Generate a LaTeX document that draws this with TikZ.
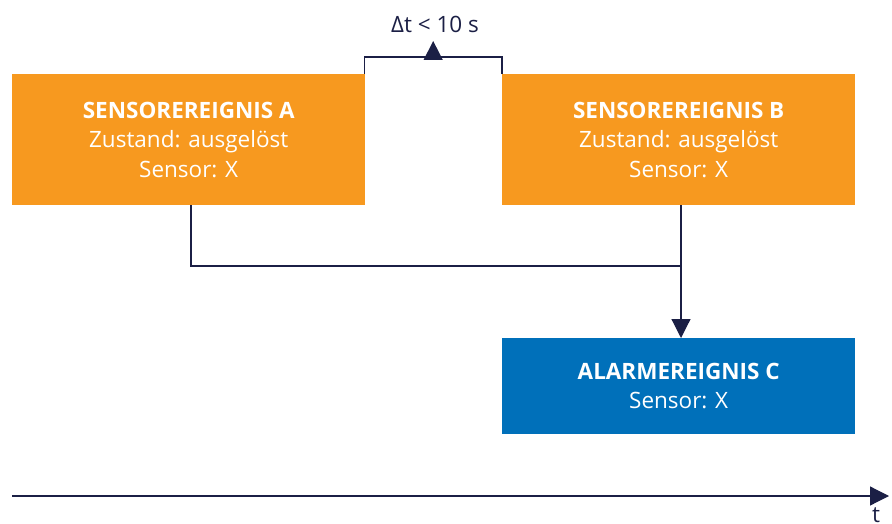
\documentclass[tikz,border=0pt]{standalone}
\usepackage{fontspec}
\setmainfont{Open Sans}
\usetikzlibrary{arrows.meta,calc}
\definecolor{evorange}{HTML}{F7991F}
\definecolor{evblue}{HTML}{0070BA}
\definecolor{navy}{HTML}{1B1F45}
\tikzset{
  evbox/.style={anchor=north west, minimum width=#1, inner sep=0pt, text=white, align=center, font=\fontsize{22.5}{29.5}\selectfont},
  orangebox/.style={evbox=353pt, fill=evorange, minimum height=131pt},
  bluebox/.style={evbox=353pt, fill=evblue, minimum height=96pt},
  conn/.style={draw=navy, line width=1.2pt},
  tip/.style={-{Triangle[length=19pt,width=19pt]}},
  lbl/.style={font=\fontsize{22.5}{26}\selectfont, text=navy, inner sep=0pt},
}
\begin{document}
\begin{tikzpicture}[x=1pt,y=-1pt]
\useasboundingbox (0,0) rectangle (892,524);
\node[orangebox] (a) at (12,74) {\textbf{SENSOREREIGNIS A}\\Zustand: ausgelöst\\Sensor: X};
\node[orangebox] (b) at (502,74) {\textbf{SENSOREREIGNIS B}\\Zustand: ausgelöst\\Sensor: X};
\node[bluebox] (c) at (502,338) {\textbf{ALARMEREIGNIS C}\\Sensor: X};
\coordinate (bl) at ([xshift=-1pt]a.north east);
\coordinate (br) at (b.north west);
\draw[conn] (bl) -- ++(0,-17) coordinate (tl) -- (tl -| br) coordinate (tr) -- (br);
\coordinate (tm) at ($(tl)!0.5!(tr)$);
\draw[conn, tip] (tm) -- ++(0,-16) coordinate (tmtop);
\node[lbl, anchor=base] (dt) at (435,33) {Δt < 10 s};
\coordinate (ad) at (191,205);
\draw[conn] (ad) |- (681,266) coordinate (join);
\draw[conn, tip] (join |- b.south) -- (join |- c.north);
\coordinate (ax0) at (12,496);
\coordinate (ax1) at (889,496);
\draw[conn, tip] (ax0) -- (ax1);
\node[lbl, anchor=north] (t) at (876,507) {t};
\end{tikzpicture}
\end{document}
